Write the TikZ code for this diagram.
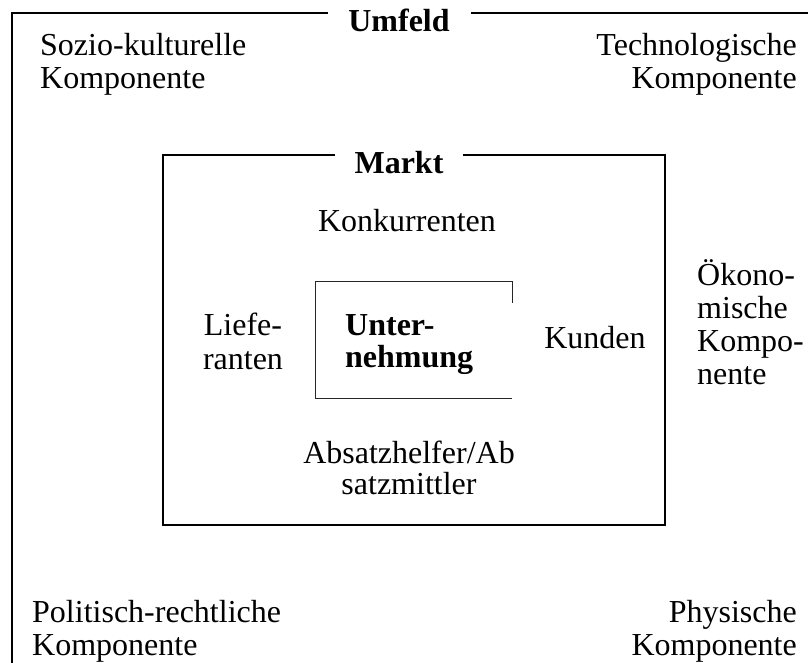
\documentclass[tikz,border=0pt]{standalone}
\usepackage{fontspec}
\setmainfont{Liberation Serif}
\begin{document}
\begin{tikzpicture}[x=1pt,y=-1pt,
  lbl/.style={inner sep=0pt, font=\fontsize{32}{33}\selectfont},
  lblb/.style={inner sep=0pt, font=\fontsize{32}{32}\selectfont\bfseries},
  frameline/.style={line width=2pt},
  thinline/.style={line width=1pt, draw=black!85}]
\useasboundingbox (0,0) rectangle (808,663);
% outer frame (Umfeld)
\draw[frameline] (328,13) -- (12,13) -- (12,663);
\draw[frameline] (471,13) -- (808,13);
\node[lblb, anchor=base] (umfeld) at (399,32) {Umfeld};
% market frame
\draw[frameline] (335,155) -- (163,155) -- (163,525) -- (665,525) -- (665,155) -- (463,155);
\node[lblb, anchor=base] (markt) at (399,174) {Markt};
% company box
\draw[thinline] (512,303) -- (512,281) -- (315,281) -- (315,398) -- (512,398);
\node[lblb, anchor=base west, align=left] (unt) at (345,367) {Unter-\\nehmung};
% market actors
\node[lbl, anchor=base] (konk) at (407,231) {Konkurrenten};
\node[lbl, anchor=base, align=center, font=\fontsize{32}{34}\selectfont] (lief) at (243,369) {Liefe-\\ranten};
\node[lbl, anchor=base] (kund) at (595,348) {Kunden};
\node[lbl, anchor=base, align=center, font=\fontsize{32}{31}\selectfont] (absatz) at (409,494) {Absatzhelfer/Ab\\satzmittler};
% environment components
\node[lbl, anchor=base west, align=left] (sozio) at (40,89) {Sozio-kulturelle\\Komponente};
\node[lbl, anchor=base east, align=right] (tech) at (797,89) {Technologische\\Komponente};
\node[lbl, anchor=base west, align=left] (oeko) at (697,384) {Ökono-\\mische\\Kompo-\\nente};
\node[lbl, anchor=base west, align=left] (polit) at (32,655) {Politisch-rechtliche\\Komponente};
\node[lbl, anchor=base east, align=right] (phys) at (797,655) {Physische\\Komponente};
\end{tikzpicture}
\end{document}
